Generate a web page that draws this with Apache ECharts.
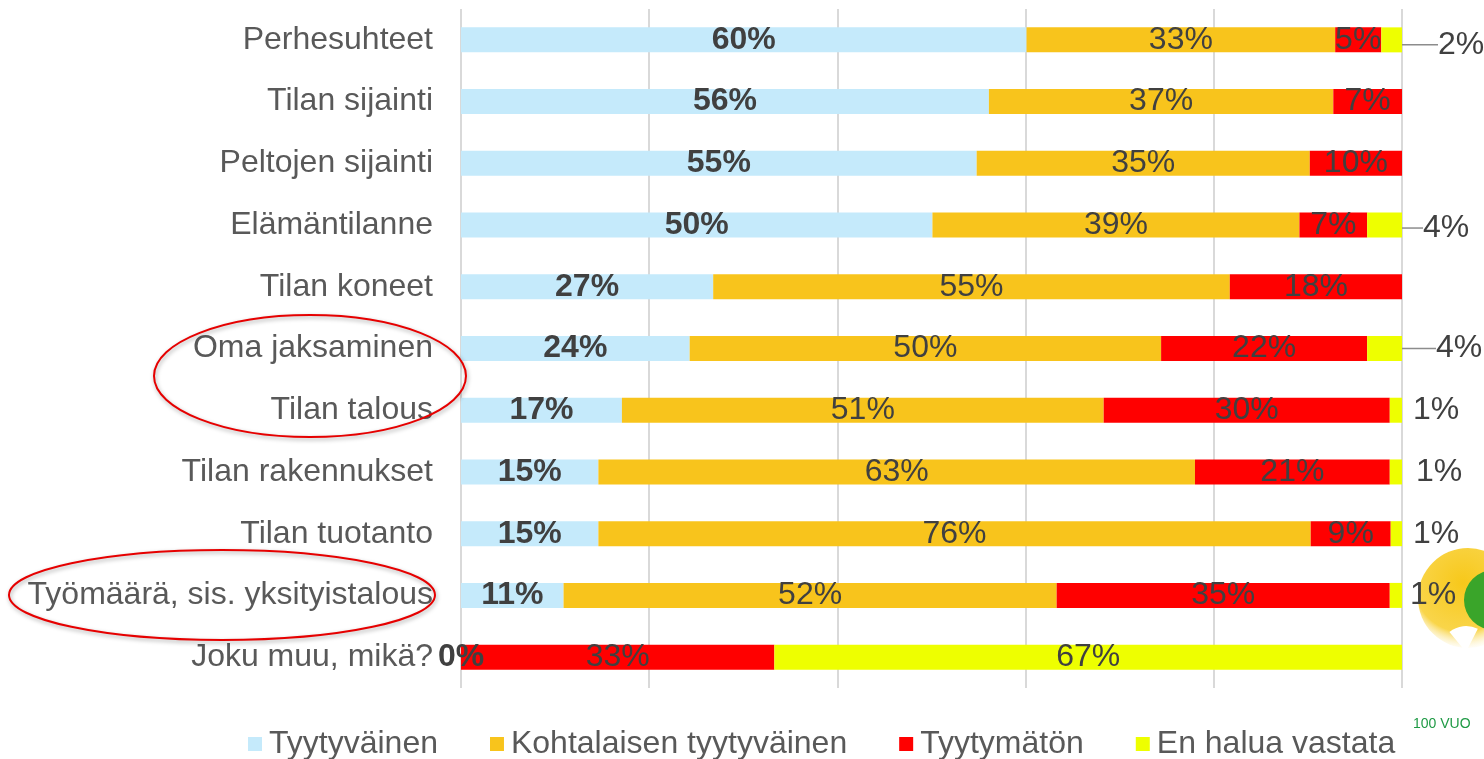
<!DOCTYPE html>
<html>
<head>
<meta charset="utf-8">
<script src="https://cdn.jsdelivr.net/npm/echarts@6/dist/echarts.min.js"></script>
<style>
html,body{margin:0;padding:0;background:#fff;}
#c{width:1484px;height:759px;}
</style>
</head>
<body>
<div id="c"></div>
<script>
// ---- data ----
const categories = ['Perhesuhteet','Tilan sijainti','Peltojen sijainti','Elämäntilanne','Tilan koneet','Oma jaksaminen','Tilan talous','Tilan rakennukset','Tilan tuotanto','Työmäärä, sis. yksityistalous','Joku muu, mikä?'];
const seriesNames = ['Tyytyväinen','Kohtalaisen tyytyväinen','Tyytymätön','En halua vastata'];
const tyytyvainen = [60.1, 56.1, 54.8, 50.1, 26.8, 24.3, 17.1, 14.6, 14.6, 10.9, 0];
const kohtalaisen = [32.8, 36.6, 35.4, 39.0, 54.9, 50.1, 51.2, 63.4, 75.7, 52.4, 0];
const tyytymaton  = [4.9, 7.3, 9.8, 7.2, 18.3, 21.9, 30.4, 20.7, 8.5, 35.4, 33.3];
const enHalua     = [2.2, 0, 0, 3.7, 0, 3.7, 1.3, 1.3, 1.2, 1.3, 66.7];
const xTicks = [0, 20, 40, 60, 80, 100];

// ---- style ----
const colors = ['#c5eafb', '#f8c41c', '#ff0000', '#eeff00'];
const FONT = 'Liberation Sans, Arial, sans-serif';
const FS = 32;
// outside-label placement for the small "En halua vastata" values
const outsideLabel = {0:{d:36, dy:5, line:true}, 3:{d:21, dy:3, line:true}, 5:{d:34, dy:0, line:true}, 6:{d:11}, 7:{d:14}, 8:{d:11}, 9:{d:8}};

const pct = v => Math.round(v) + '%';

function mkSeries(name, data, color, labelStyle, builder) {
  return {
    name: name, type: 'bar', stack: 'all', barWidth: 25,
    itemStyle: {color: color},
    label: Object.assign({show: true, position: 'inside', fontFamily: FONT, fontSize: FS, color: '#404040',
      formatter: p => (p.value === 0 && name !== seriesNames[0]) ? '' : pct(p.value)}, labelStyle || {}),
    data: builder ? data.map(builder) : data
  };
}

const yellowSeries = mkSeries(seriesNames[3], enHalua, colors[3], {}, (v, i) => {
  const o = outsideLabel[i];
  if (!o) return v;
  return {value: v, label: {position: 'right', distance: o.d}, labelLine: {show: !!o.line}};
});
yellowSeries.labelLine = {show: false, lineStyle: {color: '#8c8c8c', width: 1.5}, length2: 12};
yellowSeries.labelLayout = function (p) {
  const o = outsideLabel[p.dataIndex];
  if (o && o.dy) return {dy: o.dy};
  return {};
};

const option = {
  animation: false,
  backgroundColor: '#fff',
  grid: {left: 461, right: 82, top: 9, bottom: 71, containLabel: false},
  xAxis: {
    type: 'value', min: xTicks[0], max: xTicks[xTicks.length - 1], interval: xTicks[1] - xTicks[0],
    axisLabel: {show: false}, axisLine: {show: false}, axisTick: {show: false},
    splitLine: {show: true, lineStyle: {color: '#d9d9d9', width: 2}}
  },
  yAxis: {
    type: 'category', data: categories, inverse: true,
    axisLine: {show: false}, axisTick: {show: false},
    axisLabel: {fontFamily: FONT, fontSize: FS, color: '#595959', margin: 28}
  },
  legend: {
    left: 243, top: 723, icon: 'rect', itemWidth: 14, itemHeight: 14, itemGap: 52,
    textStyle: {fontFamily: FONT, fontSize: FS, color: '#595959', padding: [0, 0, 0, 2]},
    data: seriesNames
  },
  series: [
    mkSeries(seriesNames[0], tyytyvainen, colors[0], {fontWeight: 'bold'}),
    mkSeries(seriesNames[1], kohtalaisen, colors[1]),
    mkSeries(seriesNames[2], tyytymaton, colors[2]),
    yellowSeries
  ],
  graphic: [
    // logo fragment at right edge
    {type: 'circle', z: 0, shape: {cx: 1468, cy: 598, r: 50},
      style: {fill: {type: 'radial', x: 0.45, y: 0.35, r: 0.7, colorStops: [{offset: 0, color: '#f7c81a'}, {offset: 0.7, color: '#f9d54a'}, {offset: 1, color: 'rgba(255,255,255,0)'}]}}},
    {type: 'sector', z: 0, shape: {cx: 1494, cy: 600, r: 30, r0: 0, startAngle: Math.PI * 0.5, endAngle: Math.PI * 1.55, clockwise: true},
      style: {fill: '#3aa52a'}},
    {type: 'sector', z: 0, shape: {cx: 1466, cy: 652, r: 26, r0: 0, startAngle: -Math.PI * 0.72, endAngle: -Math.PI * 0.35},
      style: {fill: '#ffffff'}},
    {type: 'text', z: 0, left: 1413, top: 717, style: {text: '100 VUO', fontFamily: FONT, fontSize: 14, fill: '#1f9a45'}},
    // red highlight ellipses
    {type: 'ellipse', z: 10, shape: {cx: 310, cy: 376, rx: 156, ry: 61},
      style: {fill: null, stroke: '#e60000', lineWidth: 2, shadowBlur: 4, shadowColor: 'rgba(0,0,0,0.35)', shadowOffsetX: 1, shadowOffsetY: 2}},
    {type: 'ellipse', z: 10, shape: {cx: 222, cy: 595, rx: 213, ry: 45},
      style: {fill: null, stroke: '#e60000', lineWidth: 2, shadowBlur: 4, shadowColor: 'rgba(0,0,0,0.35)', shadowOffsetX: 1, shadowOffsetY: 2}}
  ]
};

const chart = echarts.init(document.getElementById('c'), null, {renderer: 'canvas'});
chart.setOption(option);
</script>
</body>
</html>
